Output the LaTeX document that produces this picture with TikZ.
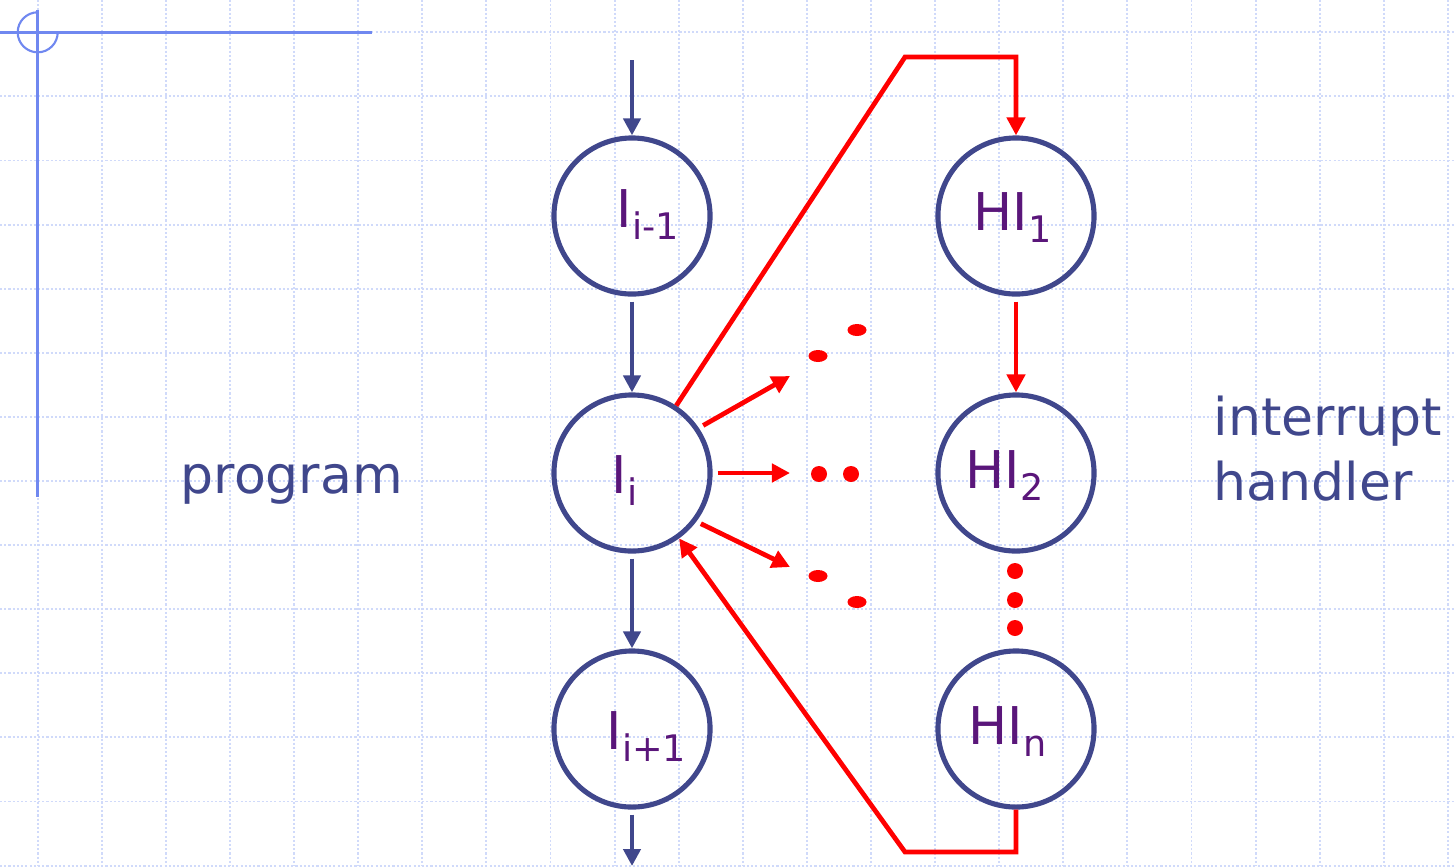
\documentclass[tikz,border=0pt]{standalone}
\usepackage{fontspec}
\setmainfont{DejaVu Sans}
\usetikzlibrary{arrows.meta}
\definecolor{gridc}{RGB}{208,218,250}
\definecolor{axisc}{RGB}{112,136,240}
\definecolor{nodec}{RGB}{64,71,140}
\definecolor{labc}{RGB}{90,22,122}
\definecolor{redc}{RGB}{255,0,0}
\newcommand\subs[1]{\raisebox{-0.125cm}{\fontsize{10.4pt}{11pt}\selectfont #1}}
\begin{document}
\begin{tikzpicture}[x=0.01cm,y=-0.01cm,
  gridline/.style={draw=gridc,line width=0.55pt,dash pattern=on 0.6pt off 0.6pt},
  state/.style={circle,draw=nodec,line width=1.45pt,minimum size=1.56cm,inner sep=0pt},
  lbl/.style={text=labc,font=\fontsize{14.8pt}{16pt}\selectfont,inner sep=0pt,anchor=base west},
  txt/.style={text=nodec,font=\fontsize{14.8pt}{16pt}\selectfont,inner sep=0pt,anchor=base west},
  barrow/.style={draw=nodec,line width=1.4pt,-{Triangle[length=0.17cm,width=0.17cm]}},
  rline/.style={draw=redc,line width=1.35pt,line join=miter},
  rarrow/.style={rline,-{Triangle[length=0.18cm,width=0.18cm]}},
  rdot/.style={fill=redc,draw=none}
]
\useasboundingbox (0,0) rectangle (1454,866);
% grid
\foreach \k in {0,...,22} \draw[gridline] ({37.7+64.1*\k},0) -- ({37.7+64.1*\k},866);
\foreach \k in {0,...,13} \draw[gridline] (0,{32.3+64.1*\k}) -- (1454,{32.3+64.1*\k});
% corner mark
\draw[axisc,line width=0.8pt] (0,32.3) -- (372,32.3);
\draw[axisc,line width=0.8pt] (37.7,10) -- (37.7,497);
\draw[axisc,line width=0.6pt] (37.7,12.3) arc[start angle=90,end angle=360,radius=0.2cm];
% program nodes
\node[state] (a) at (632,216) {};
\node[state] (b) at (632,473) {};
\node[state] (c) at (632,729) {};
\node[lbl] (ta) at (616,227) {I\subs{i-1}};
\node[lbl] (tb) at (611,493) {I\subs{i}};
\node[lbl] (tc) at (606,749) {I\subs{i+1}};
% handler nodes
\node[state] (d) at (1016,216) {};
\node[state] (e) at (1016,473) {};
\node[state] (f) at (1016,729) {};
\node[lbl] (td) at (973,230) {HI\subs{1}};
\node[lbl] (te) at (965,488) {HI\subs{2}};
\node[lbl] (tf) at (968,744) {HI\subs{n}};
% texts
\node[txt] (prog) at (180,493) {program};
\node[txt] (int1) at (1213,435) {interrupt};
\node[txt] (int2) at (1213,500) {handler};
% blue arrows
\coordinate (top) at (632,60);
\coordinate (bot) at (632,866);
\draw[barrow] (top) -- (a);
\draw[barrow,shorten <=0.05cm] (a) -- (b);
\draw[barrow,shorten <=0.05cm] (b) -- (c);
\draw[barrow,shorten <=0.05cm] (c) -- (bot);
% red connectors
\coordinate (r1) at (905,57);
\coordinate (r2) at (1016,57);
\coordinate (r3) at (1016,852);
\coordinate (r4) at (905,852);
\draw[rarrow] (b) -- (r1) -- (r2) -- (d);
\draw[rarrow] (f) -- (r3) -- (r4) -- (b);
\draw[rarrow,shorten <=0.05cm] (d) -- (e);
\coordinate (e1) at (790,376);
\coordinate (e2) at (790,473);
\coordinate (e3) at (790,567);
\draw[rarrow,shorten <=0.05cm] (b.34) -- (e1);
\draw[rarrow,shorten <=0.05cm] (b.0) -- (e2);
\draw[rarrow,shorten <=0.05cm] (b.-37) -- (e3);
% dots
\fill[rdot] (818,356) ellipse[x radius=0.095cm,y radius=0.06cm];
\fill[rdot] (857,330) ellipse[x radius=0.095cm,y radius=0.06cm];
\fill[rdot] (819,474) circle[radius=0.08cm];
\fill[rdot] (851,474) circle[radius=0.08cm];
\fill[rdot] (818,576) ellipse[x radius=0.095cm,y radius=0.06cm];
\fill[rdot] (857,602) ellipse[x radius=0.095cm,y radius=0.06cm];
\fill[rdot] (1015,571) circle[radius=0.08cm];
\fill[rdot] (1015,600) circle[radius=0.08cm];
\fill[rdot] (1015,628) circle[radius=0.08cm];
\end{tikzpicture}
\end{document}
